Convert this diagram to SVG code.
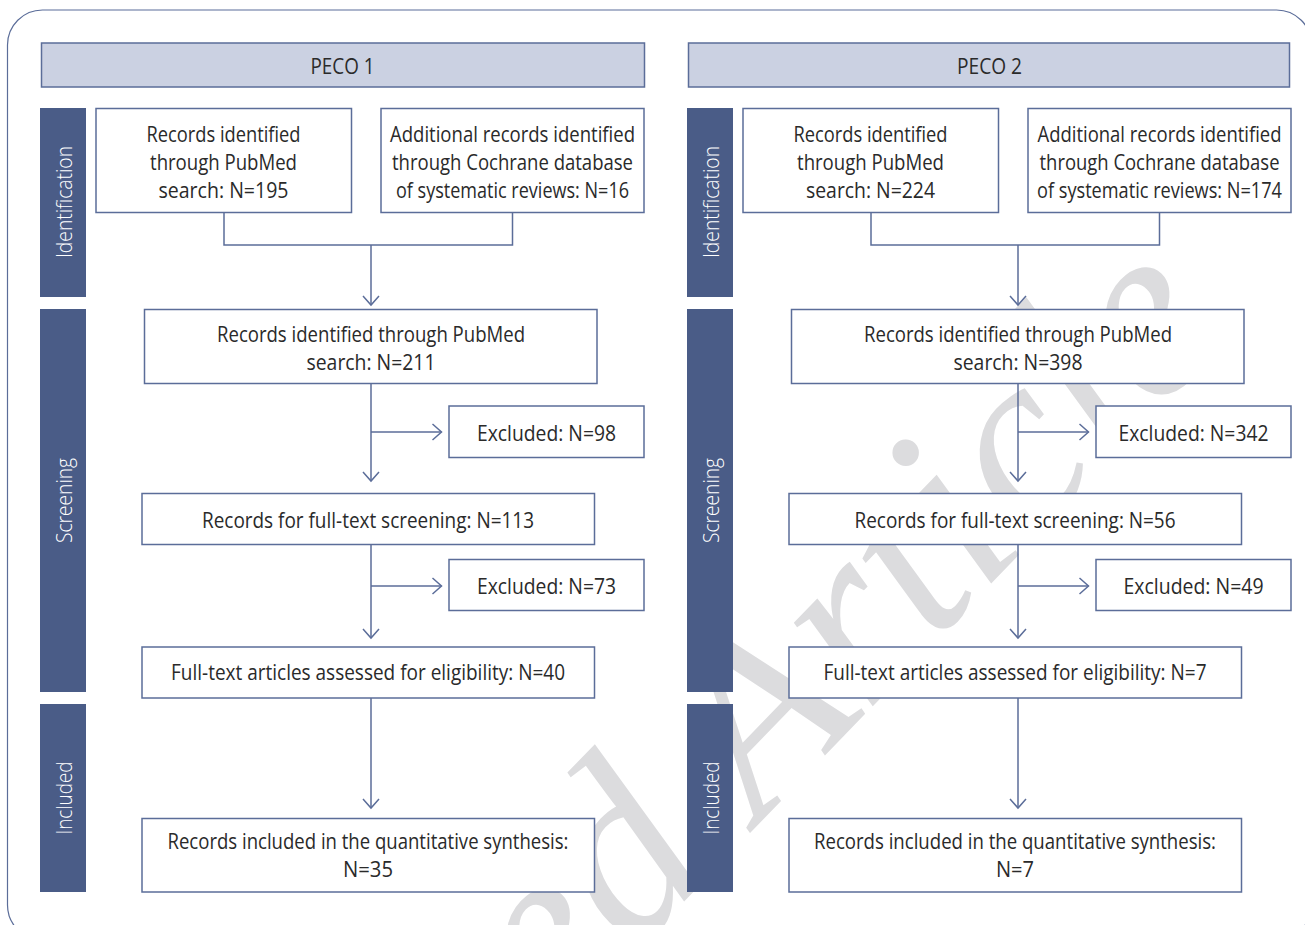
<svg xmlns="http://www.w3.org/2000/svg" width="1305" height="925" viewBox="0 0 1305 925">
<defs>
<style>
.box{fill:#ffffff;stroke:#5b6d99;stroke-width:1.5}
.hdr{fill:#cbd1e2;stroke:#5b6d99;stroke-width:1.5}
.bar{fill:#4a5c87}
.t{font-family:'Open Sans','Liberation Sans',sans-serif;font-size:22.5px;fill:#2a2a2a;text-anchor:middle}
.bt{font-family:'Open Sans','Liberation Sans',sans-serif;font-size:22.5px;font-weight:300;fill:#ffffff;text-anchor:middle}
.ln{fill:none;stroke:#5b6d99;stroke-width:1.5}
.wm{font-family:'Liberation Serif',serif;font-style:italic;font-size:250px;fill:#dcdcde}
</style>
<marker id="ah" markerWidth="24" markerHeight="24" viewBox="-12 -12 24 24" refX="0" refY="0" orient="auto" markerUnits="userSpaceOnUse">
<path d="M-9,-8 L0,0 L-9,8" fill="none" stroke="#5b6d99" stroke-width="1.5"/>
</marker>
</defs>
<rect width="1305" height="925" fill="#ffffff"/>
<g id="watermark">
<text class="wm" transform="translate(83,1524) rotate(-46)">Accepted Article</text>
</g>
<rect id="frame" x="7.5" y="10" width="1304" height="930" rx="35" fill="none" stroke="#5b6d99" stroke-width="1.2"/>

<g id="connectors">
<path class="ln" d="M224,213 V245 H512.5 V213"/>
<path class="ln" d="M371,245 V305" marker-end="url(#ah)"/>
<path class="ln" d="M371,384 V481" marker-end="url(#ah)"/>
<path class="ln" d="M371,432 H441.5" marker-end="url(#ah)"/>
<path class="ln" d="M371,545 V638" marker-end="url(#ah)"/>
<path class="ln" d="M371,586 H441.5" marker-end="url(#ah)"/>
<path class="ln" d="M371,698 V808" marker-end="url(#ah)"/>
<path class="ln" d="M871,213 V245 H1159.5 V213"/>
<path class="ln" d="M1018,245 V305" marker-end="url(#ah)"/>
<path class="ln" d="M1018,384 V481" marker-end="url(#ah)"/>
<path class="ln" d="M1018,432 H1088.5" marker-end="url(#ah)"/>
<path class="ln" d="M1018,545 V638" marker-end="url(#ah)"/>
<path class="ln" d="M1018,586 H1088.5" marker-end="url(#ah)"/>
<path class="ln" d="M1018,698 V808" marker-end="url(#ah)"/>
</g>

<g id="peco1-header"><rect class="hdr" x="41.5" y="43" width="603" height="44"/><text class="t" x="342.5" y="74" textLength="64" lengthAdjust="spacingAndGlyphs">PECO 1</text></g>
<g id="peco2-header"><rect class="hdr" x="688.5" y="43" width="601" height="44"/><text class="t" x="989.5" y="74" textLength="65" lengthAdjust="spacingAndGlyphs">PECO 2</text></g>

<g id="p1-identification"><rect class="bar" x="40" y="108" width="46" height="189"/><text class="bt" transform="translate(72,202) rotate(-90)" textLength="112" lengthAdjust="spacingAndGlyphs">Identification</text></g>
<g id="p1-screening"><rect class="bar" x="40" y="309" width="46" height="383"/><text class="bt" transform="translate(72,500.5) rotate(-90)" textLength="85" lengthAdjust="spacingAndGlyphs">Screening</text></g>
<g id="p1-included"><rect class="bar" x="40" y="704" width="46" height="188"/><text class="bt" transform="translate(72,798) rotate(-90)" textLength="73" lengthAdjust="spacingAndGlyphs">Included</text></g>
<g id="p2-identification"><rect class="bar" x="687" y="108" width="46" height="189"/><text class="bt" transform="translate(719,202) rotate(-90)" textLength="112" lengthAdjust="spacingAndGlyphs">Identification</text></g>
<g id="p2-screening"><rect class="bar" x="687" y="309" width="46" height="383"/><text class="bt" transform="translate(719,500.5) rotate(-90)" textLength="85" lengthAdjust="spacingAndGlyphs">Screening</text></g>
<g id="p2-included"><rect class="bar" x="687" y="704" width="46" height="188"/><text class="bt" transform="translate(719,798) rotate(-90)" textLength="73" lengthAdjust="spacingAndGlyphs">Included</text></g>

<g id="p1-pubmed">
<rect class="box" x="96" y="108.5" width="255.5" height="104"/>
<text class="t" x="223.5" y="142" textLength="154" lengthAdjust="spacingAndGlyphs">Records identified</text>
<text class="t" x="223.5" y="170" textLength="147" lengthAdjust="spacingAndGlyphs">through PubMed</text>
<text class="t" x="223.5" y="198" textLength="130" lengthAdjust="spacingAndGlyphs">search: N=195</text>
</g>
<g id="p1-cochrane">
<rect class="box" x="381" y="108.5" width="263" height="104"/>
<text class="t" x="512.5" y="142" textLength="245" lengthAdjust="spacingAndGlyphs">Additional records identified</text>
<text class="t" x="512.5" y="170" textLength="241" lengthAdjust="spacingAndGlyphs">through Cochrane database</text>
<text class="t" x="512.5" y="198" textLength="233" lengthAdjust="spacingAndGlyphs">of systematic reviews: N=16</text>
</g>
<g id="p1-combined">
<rect class="box" x="144.5" y="309.5" width="452.5" height="74"/>
<text class="t" x="371" y="342" textLength="308" lengthAdjust="spacingAndGlyphs">Records identified through PubMed</text>
<text class="t" x="371" y="370" textLength="129" lengthAdjust="spacingAndGlyphs">search: N=211</text>
</g>
<g id="p1-excluded1">
<rect class="box" x="449" y="406" width="195" height="51.5"/>
<text class="t" x="546.5" y="441" textLength="139" lengthAdjust="spacingAndGlyphs">Excluded: N=98</text>
</g>
<g id="p1-fulltext">
<rect class="box" x="142" y="493.5" width="452.5" height="51"/>
<text class="t" x="368" y="527.5" textLength="332" lengthAdjust="spacingAndGlyphs">Records for full-text screening: N=113</text>
</g>
<g id="p1-excluded2">
<rect class="box" x="449" y="559.5" width="195" height="51"/>
<text class="t" x="546.5" y="593.5" textLength="139" lengthAdjust="spacingAndGlyphs">Excluded: N=73</text>
</g>
<g id="p1-eligibility">
<rect class="box" x="142" y="647" width="452.5" height="51"/>
<text class="t" x="368" y="680" textLength="394" lengthAdjust="spacingAndGlyphs">Full-text articles assessed for eligibility: N=40</text>
</g>
<g id="p1-included-box">
<rect class="box" x="142" y="818.5" width="452.5" height="73.5"/>
<text class="t" x="368" y="849" textLength="401" lengthAdjust="spacingAndGlyphs">Records included in the quantitative synthesis:</text>
<text class="t" x="368" y="877" textLength="50" lengthAdjust="spacingAndGlyphs">N=35</text>
</g>

<g id="p2-pubmed">
<rect class="box" x="743" y="108.5" width="255.5" height="104"/>
<text class="t" x="870.5" y="142" textLength="154" lengthAdjust="spacingAndGlyphs">Records identified</text>
<text class="t" x="870.5" y="170" textLength="147" lengthAdjust="spacingAndGlyphs">through PubMed</text>
<text class="t" x="870.5" y="198" textLength="129" lengthAdjust="spacingAndGlyphs">search: N=224</text>
</g>
<g id="p2-cochrane">
<rect class="box" x="1028" y="108.5" width="263" height="104"/>
<text class="t" x="1159.5" y="142" textLength="244" lengthAdjust="spacingAndGlyphs">Additional records identified</text>
<text class="t" x="1159.5" y="170" textLength="240" lengthAdjust="spacingAndGlyphs">through Cochrane database</text>
<text class="t" x="1159.5" y="198" textLength="245" lengthAdjust="spacingAndGlyphs">of systematic reviews: N=174</text>
</g>
<g id="p2-combined">
<rect class="box" x="791.5" y="309.5" width="452.5" height="74"/>
<text class="t" x="1018" y="342" textLength="308" lengthAdjust="spacingAndGlyphs">Records identified through PubMed</text>
<text class="t" x="1018" y="370" textLength="129" lengthAdjust="spacingAndGlyphs">search: N=398</text>
</g>
<g id="p2-excluded1">
<rect class="box" x="1096" y="406" width="195" height="51.5"/>
<text class="t" x="1193.5" y="441" textLength="150" lengthAdjust="spacingAndGlyphs">Excluded: N=342</text>
</g>
<g id="p2-fulltext">
<rect class="box" x="789" y="493.5" width="452.5" height="51"/>
<text class="t" x="1015" y="527.5" textLength="321" lengthAdjust="spacingAndGlyphs">Records for full-text screening: N=56</text>
</g>
<g id="p2-excluded2">
<rect class="box" x="1096" y="559.5" width="195" height="51"/>
<text class="t" x="1193.5" y="593.5" textLength="140" lengthAdjust="spacingAndGlyphs">Excluded: N=49</text>
</g>
<g id="p2-eligibility">
<rect class="box" x="789" y="647" width="452.5" height="51"/>
<text class="t" x="1015" y="680" textLength="383" lengthAdjust="spacingAndGlyphs">Full-text articles assessed for eligibility: N=7</text>
</g>
<g id="p2-included-box">
<rect class="box" x="789" y="818.5" width="452.5" height="73.5"/>
<text class="t" x="1015" y="849" textLength="402" lengthAdjust="spacingAndGlyphs">Records included in the quantitative synthesis:</text>
<text class="t" x="1015" y="877" textLength="38" lengthAdjust="spacingAndGlyphs">N=7</text>
</g>
</svg>
